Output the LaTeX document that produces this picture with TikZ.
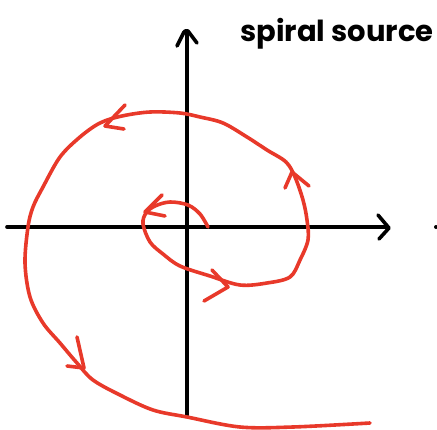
\documentclass[tikz,border=0pt]{standalone}
\usepackage{fontspec}
\setsansfont{Poppins}
\definecolor{spred}{HTML}{E8392A}
\begin{document}
\begin{tikzpicture}[x=1pt,y=-1pt,
  ax/.style={line width=3.6pt,black,line cap=round,line join=round},
  sp/.style={line width=3.6pt,color=spred,line cap=round,line join=round}]
\useasboundingbox (0,0) rectangle (437,429);
% axes
\draw[ax] (7,227) -- (386,227);
\draw[ax] (378,215) -- (389,228) -- (379,239);
\draw[ax] (187,415) -- (187,33);
\draw[ax] (177,46) -- (183,34) .. controls (184,31) and (186,30) .. (188,31) -- (197,43);
\fill (436,227) circle (2);
% spiral
\draw[sp] plot[smooth,tension=0.55] coordinates {
(208,227) (200,214) (188,205) (170,202) (155,206) (146,213) (143,224) (150,242) (163,254) (180,266) (210,276) (240,285) (267,283) (290,277) (300,260) (308,240) (307,220) (303,200) (295,177) (286,162) (267,150) (247,137) (223,123) (200,117) (180,113) (150,112) (122,116) (100,123) (80,137) (60,157) (43,187) (33,207) (28,227) (25,263) (30,297) (43,323) (60,343) (77,363) (93,380) (120,395) (153,410) (187,417) (240,427) (293,427) (370,423)};
% arrowheads
\draw[sp] (162,195) -- (145,212) -- (165,216);
\draw[sp] (212,270) -- (228,287) -- (204,301);
\draw[sp] (285,188) -- (292,172) -- (309,186);
\draw[sp] (125,105) -- (105,126) -- (124,129);
\draw[sp] (77,337) -- (84,368) -- (67,366);
% label
\node[anchor=base west,inner sep=0pt,font=\sffamily\bfseries\fontsize{29}{34}\selectfont] (lbl) at (240,41) {spiral source};
\end{tikzpicture}
\end{document}
